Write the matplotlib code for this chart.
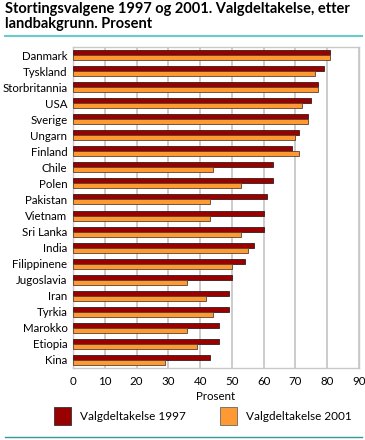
import numpy as np
import matplotlib
matplotlib.use("Agg")
import matplotlib.pyplot as plt
from matplotlib.patches import Patch
from matplotlib.lines import Line2D

countries = ["Danmark", "Tyskland", "Storbritannia", "USA", "Sverige", "Ungarn",
             "Finland", "Chile", "Polen", "Pakistan", "Vietnam", "Sri Lanka",
             "India", "Filippinene", "Jugoslavia", "Iran", "Tyrkia", "Marokko",
             "Etiopia", "Kina"]
v1997 = [81, 79, 77, 75, 74, 71, 69, 63, 63, 61, 60, 60, 57, 54, 50, 49, 49, 46, 46, 43]
v2001 = [81, 76, 77, 72, 74, 70, 71, 44, 53, 43, 43, 53, 55, 50, 36, 42, 44, 36, 39, 29]
xticks = [0, 10, 20, 30, 40, 50, 60, 70, 80, 90]

c97 = "#990000"
c01 = "#ff9933"

plt.rcParams["font.family"] = ["Lato", "DejaVu Sans"]
fig = plt.figure(figsize=(3.65, 4.40), dpi=100)
W, H = 365, 440
ax = fig.add_axes([73 / W, 1 - 368 / H, 286 / W, 321 / H])

y = np.arange(len(countries))
h = 0.31
ax.barh(y - h / 2, v1997, height=h, color=c97, edgecolor="#3a1a1a", linewidth=0.6, zorder=3)
ax.barh(y + h / 2, v2001, height=h, color=c01, edgecolor="#5a4030", linewidth=0.6, zorder=3)

ax.set_ylim(len(countries) - 0.5, -0.5)
ax.set_xlim(0, 90)
ax.set_xticks(xticks)
ax.set_yticks(y)
ax.set_yticklabels(countries, fontsize=8.3)
ax.tick_params(axis="x", labelsize=8.3, length=0, pad=6)
ax.tick_params(axis="y", length=0, pad=4)
ax.grid(axis="x", color="#c8c8c8", linewidth=1.3, zorder=0)
for s in ax.spines.values():
    s.set_color("#c8c8c8")
    s.set_linewidth(1.0)
ax.set_xlabel("Prosent", fontsize=8.3, labelpad=3)

fig.text(5 / W, 1 - 2 / H, "Stortingsvalgene 1997 og 2001. Valgdeltakelse, etter\nlandbakgrunn. Prosent",
         fontsize=10.5, fontweight="bold", va="top", ha="left", linespacing=1.05)
fig.add_artist(Line2D([5 / W, 362 / W], [1 - 36 / H, 1 - 36 / H], color="#66cccc", linewidth=1.5))
fig.add_artist(Line2D([5 / W, 362 / W], [1 - 437 / H, 1 - 437 / H], color="#339999", linewidth=1.0))

handles = [Patch(facecolor=c97, edgecolor="#333333", linewidth=0.6, label="Valgdeltakelse 1997"),
           Patch(facecolor=c01, edgecolor="#666666", linewidth=0.6, label="Valgdeltakelse 2001")]
fig.legend(handles=handles, loc="center", bbox_to_anchor=(203 / W, 1 - 416 / H), ncol=2,
           frameon=False, fontsize=8.5, handlelength=1.4, handleheight=1.9,
           columnspacing=2.9, handletextpad=0.8)

fig.savefig("out.png", dpi=100)
